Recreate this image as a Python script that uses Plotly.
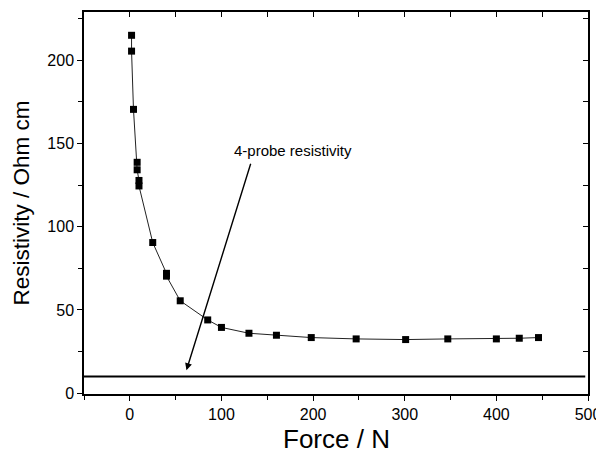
import plotly.graph_objects as go

force = [1.9, 1.9, 4, 8, 8, 10, 10, 25, 40, 40, 55, 85, 100, 130, 160, 198, 247, 301, 347, 400, 425, 446]
resistivity = [215, 205.5, 170.5, 138.7, 134.2, 127.8, 124.5, 90.5, 72, 70.3, 55.5, 44, 39.5, 36, 34.8, 33.4, 32.6, 32.2, 32.6, 32.6, 33, 33.4]
probe_x = [-50, 497]
probe_y = [10, 10]
x_range = [-50, 500]
y_range = [-0.5, 229]

FONT = "Arial, Liberation Sans, sans-serif"

fig = go.Figure()
fig.add_trace(go.Scatter(x=probe_x, y=probe_y, mode="lines",
                         line=dict(color="black", width=2), showlegend=False))
fig.add_trace(go.Scatter(x=force, y=resistivity, mode="lines+markers",
                         line=dict(color="#222", width=1),
                         marker=dict(symbol="square", size=7, color="black"),
                         showlegend=False))
# invisible trace for mirrored axes
fig.add_trace(go.Scatter(x=[x_range[0]], y=[y_range[0]], xaxis="x2", yaxis="y2",
                         mode="markers", marker=dict(opacity=0), showlegend=False,
                         hoverinfo="skip"))

axcommon = dict(showgrid=False, zeroline=False, showline=True, linecolor="black",
                linewidth=1.5, tickcolor="black", tickwidth=1.3, ticklen=5,
                automargin=False,
                tickfont=dict(family=FONT, size=16, color="black"))

# page has an 8px body margin, so the figure is 8px smaller than the window
fig.update_layout(
    width=596, height=452,
    margin=dict(l=76, r=16, t=4, b=66),
    paper_bgcolor="white", plot_bgcolor="white",
    xaxis=dict(range=x_range, dtick=100, tick0=0, ticks="outside",
               minor=dict(dtick=50, tick0=0, ticks="outside", ticklen=4, tickcolor="black"),
               **axcommon),
    yaxis=dict(range=y_range, dtick=50, tick0=0, ticks="outside",
               minor=dict(dtick=25, tick0=0, ticks="outside", ticklen=4, tickcolor="black"),
               title=dict(text="Resistivity / Ohm cm", font=dict(family=FONT, size=22.5, color="black"),
                          standoff=11),
               **axcommon),
    xaxis2=dict(range=x_range, overlaying="x", side="top", dtick=50, tick0=0,
                ticks="inside", showticklabels=False, showgrid=False, zeroline=False,
                showline=True, linecolor="black", linewidth=1.5, tickcolor="black",
                tickwidth=1.3, ticklen=5, automargin=False),
    yaxis2=dict(range=y_range, overlaying="y", side="right", dtick=25, tick0=0,
                ticks="inside", showticklabels=False, showgrid=False, zeroline=False,
                showline=True, linecolor="black", linewidth=1.5, tickcolor="black",
                tickwidth=1.3, ticklen=5, automargin=False),
    annotations=[
        dict(x=0.5, y=-0.118, xref="paper", yref="paper", text="Force / N",
             showarrow=False, xanchor="center", yanchor="middle",
             font=dict(family=FONT, size=26, color="black")),
        dict(x=178.5, y=145.5, xref="x", yref="y", text="4-probe resistivity",
             showarrow=False, font=dict(family=FONT, size=15, color="black")),
        dict(x=61.8, y=13.8, xref="x", yref="y", ax=132.4, ay=138.7,
             axref="x", ayref="y", text="", showarrow=True, arrowhead=2,
             arrowsize=1, arrowwidth=1.4, arrowcolor="black"),
    ],
)

fig.write_html("out.html")
